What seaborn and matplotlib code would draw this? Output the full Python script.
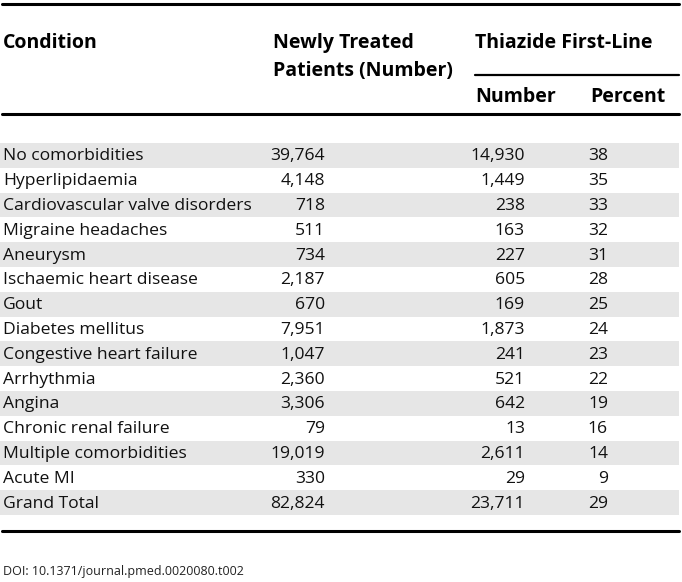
import numpy as np
import matplotlib
matplotlib.use("Agg")
import matplotlib.pyplot as plt
from matplotlib.colors import ListedColormap
import seaborn as sns

# table data
conditions = ["No comorbidities", "Hyperlipidaemia", "Cardiovascular valve disorders",
              "Migraine headaches", "Aneurysm", "Ischaemic heart disease", "Gout",
              "Diabetes mellitus", "Congestive heart failure", "Arrhythmia", "Angina",
              "Chronic renal failure", "Multiple comorbidities", "Acute MI", "Grand Total"]
newly_treated = [39764, 4148, 718, 511, 734, 2187, 670, 7951, 1047, 2360, 3306, 79,
                 19019, 330, 82824]
thiazide_number = [14930, 1449, 238, 163, 227, 605, 169, 1873, 241, 521, 642, 13,
                   2611, 29, 23711]
thiazide_percent = [38, 35, 33, 32, 31, 28, 25, 24, 23, 22, 19, 16, 14, 9, 29]
doi_text = "DOI: 10.1371/journal.pmed.0020080.t002"

W, H = 682, 582
sns.set_theme(style="white")
plt.rcParams["font.family"] = ["Open Sans", "DejaVu Sans"]

fig = plt.figure(figsize=(W / 100, H / 100), dpi=100)

# striped body background drawn as a one-column heatmap
body_top, body_bot, body_right = 143, 515, 679
ax_bg = fig.add_axes([0, (H - body_bot) / H, body_right / W, (body_bot - body_top) / H])
stripes = np.array([[1 - (i % 2)] for i in range(len(conditions))])
sns.heatmap(stripes, cmap=ListedColormap(["white", "#e6e6e6"]), cbar=False,
            xticklabels=False, yticklabels=False, ax=ax_bg)
ax_bg.set_axis_off()

# overlay in pixel coordinates for rules and text
ax = fig.add_axes([0, 0, 1, 1], facecolor="none")
ax.set_xlim(0, W)
ax.set_ylim(H, 0)
ax.set_axis_off()

# rules
ax.plot([2, 679], [4, 4], color="black", lw=2.2)
ax.plot([2, 679], [114, 114], color="black", lw=2.2)
ax.plot([475, 679], [75, 75], color="black", lw=1.6)
ax.plot([2, 679], [531, 531], color="black", lw=2.2)

# header
hdr = dict(fontsize=14, fontweight="bold", color="black", va="center")
ax.text(3, 43, "Condition", ha="left", **hdr)
ax.text(273, 43, "Newly Treated", ha="left", **hdr)
ax.text(273, 71, "Patients (Number)", ha="left", **hdr)
ax.text(475, 43, "Thiazide First-Line", ha="left", **hdr)
ax.text(475, 97, "Number", ha="left", **hdr)
ax.text(590, 97, "Percent", ha="left", **hdr)

# body rows
row_h = (body_bot - body_top) / len(conditions)
body = dict(fontsize=12.6, color="#111111", va="center")
for i, cond in enumerate(conditions):
    y = body_top + (i + 0.5) * row_h + 1
    ax.text(3, y, cond, ha="left", **body)
    ax.text(325, y, f"{newly_treated[i]:,}", ha="right", **body)
    ax.text(525, y, f"{thiazide_number[i]:,}", ha="right", **body)
    ax.text(608, y, f"{thiazide_percent[i]}", ha="right", **body)

ax.text(3, 571, doi_text, ha="left", va="center", fontsize=9, color="#222222")

fig.savefig("out.png", dpi=100)
